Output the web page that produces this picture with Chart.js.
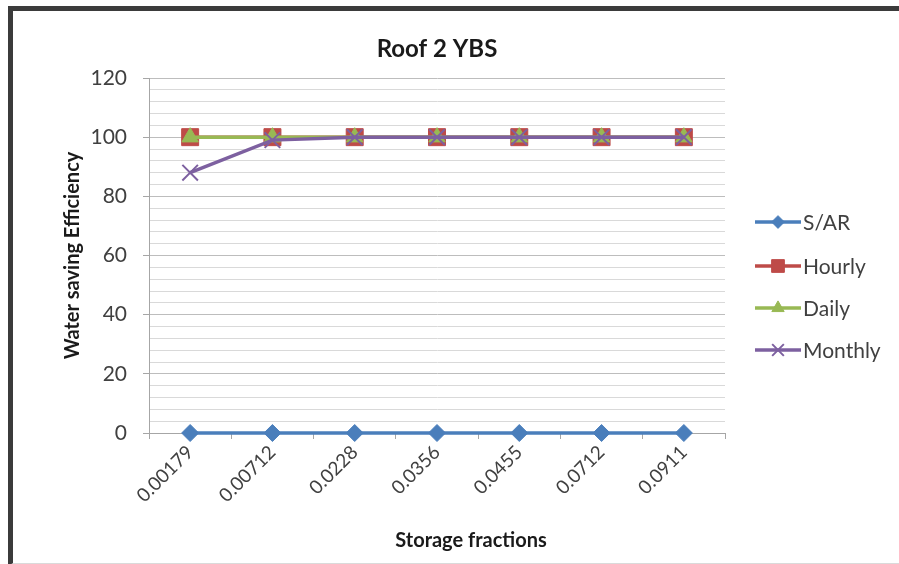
<!DOCTYPE html>
<html>
<head>
<meta charset="utf-8">
<script src="https://cdn.jsdelivr.net/npm/chart.js@4"></script>
<style>
  html, body { margin: 0; padding: 0; background: #ffffff; }
  #wrap { position: relative; width: 899px; height: 564px; overflow: hidden; }
  #frame {
    position: absolute; left: 8px; top: 6px; width: 900px; height: 552px;
    border-top: 5px solid #3b3b3b; border-left: 5px solid #3b3b3b;
    border-bottom: 3px solid #dadada;
  }
  #c { position: absolute; left: 0; top: 0; }
</style>
</head>
<body>
<div id="wrap">
  <div id="frame"></div>
  <canvas id="c" width="899" height="564"></canvas>
</div>
<script>
// Storage fractions on the x axis
const categories = ['0.00179', '0.00712', '0.0228', '0.0356', '0.0455', '0.0712', '0.0911'];

// Water saving efficiency per model
const sarValues     = [0, 0, 0, 0, 0, 0, 0];
const hourlyValues  = [100, 100, 100, 100, 100, 100, 100];
const dailyValues   = [100, 100, 100, 100, 100, 100, 100];
const monthlyValues = [88, 99, 100, 100, 100, 100, 100];

const yTickLabels = [0, 20, 40, 60, 80, 100, 120];

const chartTitle = 'Roof 2 YBS';
const xTitle = 'Storage fractions';
const yTitle = 'Water saving Efficiency';

const FONT = "Lato, 'Open Sans', sans-serif";
const TEXT = '#404040';

const PLOT = { left: 149, right: 725, top: 78, bottom: 433 };

const series = [
  { label: 'S/AR',    data: sarValues,     color: '#4A7EBB', style: 'rectRot',  radius: 8.5, order: 3 },
  { label: 'Hourly',  data: hourlyValues,  color: '#BE4B48', style: 'rect',     radius: 12,  order: 2 },
  { label: 'Daily',   data: dailyValues,   color: '#98B954', style: 'triangle', radius: 9.5, order: 1 },
  { label: 'Monthly', data: monthlyValues, color: '#7D60A0', style: 'crossRot', radius: 11,  order: 0 }
];

// Title, x-axis title and the line+marker legend, drawn over the chart
const overlay = {
  id: 'overlay',
  afterDraw(chart) {
    const ctx = chart.ctx;
    ctx.save();
    ctx.fillStyle = '#1a1a1a';
    ctx.textAlign = 'center';
    ctx.textBaseline = 'middle';
    ctx.font = "bold 24px " + FONT;
    ctx.fillText(chartTitle, (PLOT.left + PLOT.right) / 2, 49);
    ctx.font = "bold 20px " + FONT;
    ctx.fillText(xTitle, 471, 541);

    const rows = [222, 266, 308, 350];
    chart.data.datasets.forEach((ds, i) => {
      const y = rows[i];
      ctx.strokeStyle = ds.borderColor;
      ctx.lineWidth = 3.5;
      ctx.beginPath();
      ctx.moveTo(755, y);
      ctx.lineTo(801, y);
      ctx.stroke();
      ctx.fillStyle = ds.pointBackgroundColor;
      ctx.strokeStyle = ds.pointBorderColor;
      ctx.lineWidth = ds.pointBorderWidth;
      Chart.helpers.drawPoint(ctx, {
        pointStyle: ds.pointStyle,
        radius: ds.pointRadius * 0.75,
        borderWidth: ds.pointBorderWidth
      }, 778, y);
      ctx.fillStyle = TEXT;
      ctx.textAlign = 'left';
      ctx.font = "21px " + FONT;
      ctx.fillText(ds.label, 803, y + 1);
    });
    ctx.restore();
  }
};

const ctx = document.getElementById('c').getContext('2d');
new Chart(ctx, {
  type: 'line',
  data: {
    labels: categories,
    datasets: series.map(s => ({
      label: s.label,
      data: s.data,
      order: s.order,
      clip: false,
      borderColor: s.color,
      backgroundColor: s.color,
      borderWidth: 3.5,
      pointStyle: s.style,
      pointRadius: s.radius,
      pointHoverRadius: s.radius,
      pointBackgroundColor: s.color,
      pointBorderColor: s.color,
      pointBorderWidth: s.style === 'crossRot' ? 2 : 1,
      tension: 0,
      fill: false
    }))
  },
  options: {
    responsive: false,
    animation: false,
    events: [],
    layout: { padding: { left: 52, right: 899 - PLOT.right, top: PLOT.top, bottom: 10 } },
    plugins: {
      legend: { display: false },
      title: { display: false },
      tooltip: { enabled: false }
    },
    scales: {
      x: {
        offset: true,
        grid: {
          offset: true,
          drawOnChartArea: false,
          drawTicks: true,
          tickLength: 6,
          tickColor: '#a6a6a6'
        },
        border: { color: '#a6a6a6', width: 1 },
        ticks: {
          color: TEXT,
          font: { family: FONT, size: 19 },
          minRotation: 45,
          maxRotation: 45,
          padding: 2,
          autoSkip: false
        },
        afterFit(scale) { scale.height = 564 - 10 - PLOT.bottom; }
      },
      y: {
        min: 0,
        max: 120,
        afterBuildTicks(scale) {
          const t = [];
          for (let v = 0; v <= 120; v += 4) t.push({ value: v });
          scale.ticks = t;
        },
        grid: {
          color: c => (c.tick && c.tick.value % 20 === 0) ? '#bdbdbd' : '#d9d9d9',
          tickColor: c => (c.tick && c.tick.value % 20 === 0) ? '#a6a6a6' : 'rgba(0,0,0,0)',
          tickLength: 6,
          lineWidth: 1
        },
        border: { color: '#a6a6a6', width: 1 },
        ticks: {
          autoSkip: false,
          color: TEXT,
          font: { family: FONT, size: 21 },
          padding: 16,
          callback: v => yTickLabels.includes(v) ? String(v) : ''
        },
        title: {
          display: true,
          text: yTitle,
          color: '#1a1a1a',
          font: { family: FONT, size: 20, weight: 'bold' },
          padding: { top: 9, bottom: 0 }
        },
        afterFit(scale) { scale.width = PLOT.left - 52; }
      }
    }
  },
  plugins: [overlay]
});
</script>
</body>
</html>
